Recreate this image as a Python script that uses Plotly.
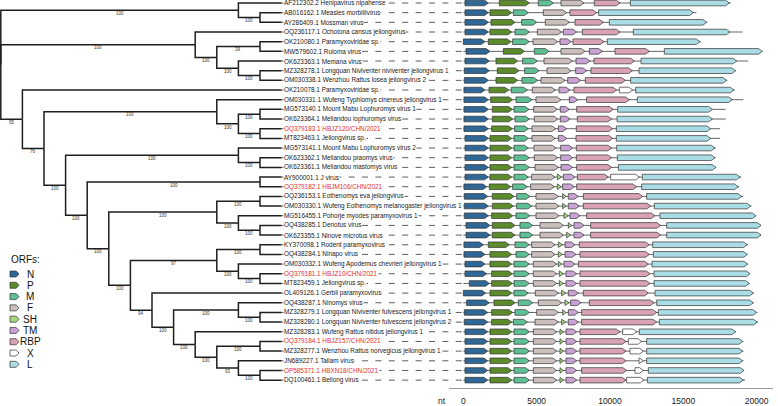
import plotly.graph_objects as go

# ---------------- data ----------------
# tree topology (Newick, support values after each clade)
V = "(JN689227.1,(OP585371.1,DQ100461.1)100)93"
U = "(MZ328283.1,((OQ379184.1,MZ328277.1)100," + V + ")100)100"
S = "((OQ438287.1,(MZ328279.1,MZ328280.1)100)100," + U + ")100"
R = "(OL409126.1," + S + ")94"
P = "((KY370098.1,OQ438284.1)100,(OM030332.1,(OQ379181.1,MT823459.1)100)100)97"
O = "(" + P + "," + R + ")100"
Mc = "((OQ236153.1,OM030330.1)100,(MG516455.1,(OQ438285.1,OK623355.1)100)100)100"
Lc = "(" + Mc + "," + O + ")100"
K = "((AY900001.1,OQ379182.1)100," + Lc + ")100"
J = "(MG573141.1,(OK623362.1,OK623361.1)100)100"
I = "(" + J + "," + K + ")100"
G = "(OM030331.1,((MG573140.1,OK623364.1)100,(OQ379183.1,MT823463.1)100)100)100"
D = "(OK210078.1,(" + G + "," + I + ")76)95"
B = "(OQ236117.1,((OK210080.1,MW579602.1)39,(OK623363.1,(MZ328278.1,OM030338.1)100)100)100)100"
A = "(AF212302.2,(AB016162.1,AY286409.1)100)100"
tree_newick = "(" + A + "," + B + "," + D + ");"

tip_names = [
    "AF212302.2 Henipavirus nipahense", "AB016162.1 Measles morbillivirus",
    "AY286409.1 Mossman virus", "OQ236117.1 Ochotona cansus jeilongvirus",
    "OK210080.1 Paramyxoviridae sp.", "MW579602.1 Ruloma virus",
    "OK623363.1 Memana virus", "MZ328278.1 Longquan Niviventer niviventer jeilongvirus 1",
    "OM030338.1 Wenzhou Rattus losea jeilongvirus 2", "OK210078.1 Paramyxoviridae sp.",
    "OM030331.1 Wufeng Typhlomys cinereus jeilongvirus 1", "MG573140.1 Mount Mabu Lophuromys virus 1",
    "OK623364.1 Meliandou lophuromys virus", "OQ379183.1 HBJZ120/CHN/2021",
    "MT823463.1 Jeilongvirus sp.", "MG573141.1 Mount Mabu Lophuromys virus 2",
    "OK623362.1 Meliandou praomys virus", "OK623361.1 Meliandou mastomys virus",
    "AY900001.1 J virus", "OQ379182.1 HBJM106/CHN/2021",
    "OQ236153.1 Eothenomys eva jeilongvirus", "OM030330.1 Wufeng Eothenomys melanogaster jeilongvirus 1",
    "MG516455.1 Pohorje myodes paramyxovirus 1", "OQ438285.1 Denotus virus",
    "OK623355.1 Ninove microtus virus", "KY370098.1 Rodent paramyxovirus",
    "OQ438284.1 Ninapo virus", "OM030332.1 Wufeng Apodemus chevrieri jeilongvirus 1",
    "OQ379181.1 HBJZ10/CHN/2021", "MT823459.1 Jeilongvirus sp.",
    "OL409126.1 Gerbil paramyxovirus", "OQ438287.1 Ninomys virus",
    "MZ328279.1 Longquan Niviventer fulvescens jeilongvirus 1",
    "MZ328280.1 Longquan Niviventer fulvescens jeilongvirus 2",
    "MZ328283.1 Wufeng Rattus nitidus jeilongvirus 1", "OQ379184.1 HBJZ157/CHN/2021",
    "MZ328277.1 Wenzhou Rattus norvegicus jeilongvirus 1", "JN689227.1 Tailam virus",
    "OP585371.1 HBXN18/CHN/2021", "DQ100461.1 Beilong virus",
]
highlight = ["OQ379183.1", "OQ379182.1", "OQ379181.1", "OQ379184.1", "OP585371.1"]

orf_names = ["N", "P", "M", "F", "SH", "TM", "RBP", "X", "L"]
orf_colors = ["#2F6896", "#5C8B2B", "#5FBF94", "#CBBFBD", "#A5D880",
              "#C9A3D3", "#D9A3B4", "#FFFFFF", "#A9DCE4"]

N = [(114,1705),(114,1705),(114,1705),(114,1705),(0,1477),(182,1818),(114,1773),(68,1773),(68,1705),(45,1477),
     (45,1705),(45,1705),(45,1705),(45,1705),(114,1705),(114,1705),(114,1705),(114,1705),(114,1705),(45,1591),
     (68,1659),(68,1705),(68,1705),(182,1818),(182,1818),(45,1364),(45,1477),(114,1477),(114,1591),(409,1773),
     (0,1523),(227,1773),(68,1659),(68,1659),(114,1659),(114,1659),(114,1659),(114,1659),(114,1659),(114,1659)]
Pp = [(2455,4500),(1818,3296),(1887,3523),(1818,3296),(1705,3250),(2728,4160),(2228,3705),(2318,3796),(2228,3705),(1750,3091),
      (1864,3364),(1978,3341),(1978,3364),(1932,3341),(1818,3296),(1818,3296),(1818,3296),(1818,3296),(1818,3296),(1773,3228),
      (1978,3455),(1978,3410),(1932,3364),(1978,3523),(1978,3523),(1705,3137),(1818,3296),(1818,3296),(1932,3341),(1932,3341),
      (1818,3296),(2091,3523),(1932,3364),(1932,3296),(1818,3296),(1818,3296),(1818,3296),(1818,3296),(1818,3296),(1818,3296)]
M = [(5114,6137),(3410,4432),(3978,5000),(3523,4500),(3364,4500),(4842,5842),(4046,5046),(4182,5160),(4000,5069),(3273,4364),
     (3591,4682),(3455,4478),(3523,4500),(3500,4432),(3455,4432),(3455,4432),(3455,4500),(3455,4500),(3455,4432),(3364,4364),
     (3637,4546),(3637,4660),(3591,4546),(3864,4728),(3864,4728),(3523,4500),(3591,4500),(3455,4500),(3455,4500),(3455,4500),
     (3455,4432),(3750,4728),(3523,4500),(3410,4364),(3455,4500),(3455,4500),(3455,4500),(3455,4500),(3455,4500),(3455,4500)]
F = [(6660,8228),(5455,7046),(5592,7228),(5046,6705),(4751,6433),(6660,8296),(5501,7433),(5705,7342),(5296,6933),(4705,6274),
     (4955,6660),(4796,6410),(4842,6433),(4682,6296),(4682,6251),(4819,6319),(4842,6433),(4887,6478),(4660,6251),(4591,6205),
     (4955,6478),(4955,6524),(4955,6524),(5228,6819),(5228,6819),(4660,6251),(4660,6251),(4773,6364),(4773,6364),(4773,6364),
     (4910,6478),(5114,6705),(5000,6478),(4887,6478),(4773,6364),(4773,6364),(4773,6364),(4773,6364),(4773,6364),(4773,6364)]
SH = [None]*18 + [(6410,6705),(6410,6683),(6773,7001),(6773,7001),(6865,7160),(7160,7388),(7046,7319),(6478,6751),
                  (6478,6751),(6478,6705),(6546,6819),(6546,6819),(6705,6978),(6933,7205),(6773,7001),(6705,6978),
                  (6592,6819),(6592,6819),(6592,6819),(6592,6819),(6592,6819),(6592,6819)]
TM = [None,None,None,(6819,7728),(6592,7342),(8592,9478),(7683,8637),(7660,8410),(7115,8001),(6523,7274),
      (7228,7796),(6614,7228),(6614,7274),(6478,7046),(6478,7046),(6637,7455),(6637,7455),(6660,7455),(6819,7615),(6773,7569),
      (7160,7842),(7160,7910),(7274,7956),(7546,8228),(7546,8228),(6933,7615),(6933,7683),(6865,7615),(7001,7728),(7001,7728),
      (7160,7842),(7319,8024),(7160,7842),(7160,7842),(7001,7728),(7001,7728),(7001,7728),(7001,7728),(7001,7728),(7001,7728)]
RBP = [(8933,10683),(7273,9092),(7615,9547),(8115,10683),(7478,9592),(10342,12683),(8910,11660),(8706,11524),(8319,11047),(7546,10456),
       (8410,11320),(7728,10229),(7774,10115),(7705,10183),(7683,10183),(7705,10115),(7705,10115),(7728,10115),(7774,9888),(7728,11820),
       (8183,12229),(8183,12774),(8410,13070),(8683,13456),(8683,13456),(7910,12683),(7956,12683),(7842,12615),(7956,12729),(7956,12729),
       (8183,12615),(8592,13002),(8069,13183),(8069,13183),(7956,10683),(7956,11092),(7956,11092),(7956,11092),(8069,11138),(7956,11092)]
X = ([None]*9 + [(10638,11547)] + [None]*8 + [(10047,12001)] + [None]*15 +
     [(10865,11820),(11251,12161),(11365,12274),(11979,12274),(11706,12274),(11138,12320)])
L = [(11388,18139),(9228,15684),(9956,16593),(11592,18184),(9820,16138),(13706,20389),(12115,18639),(11979,18570),(11411,17957),(11752,18457),
     (11865,18343),(10524,16979),(10479,16979),(10433,16866),(10433,16866),(10456,17160),(10501,17160),(10570,17229),(12206,18866),(12161,18752),
     (12502,18980),(13024,19593),(13411,19957),(13865,20298),(13865,20298),(12911,19366),(12956,19366),(12865,19389),(13002,19548),(13002,19502),
     (13070,19775),(13183,19775),(13297,20002),(13365,20048),(12001,18570),(12502,19047),(12502,19047),(12502,19047),(12615,19138),(12547,19093)]
orf_coords = [N, Pp, M, F, SH, TM, RBP, X, L]

genome_len = [18246,15894,16650,19025,16200,20400,19434,18600,18000,18500,
              19093,17889,17889,17502,17502,17200,17200,17250,18954,18800,
              19093,19650,19960,20300,20300,19400,19400,19400,19550,19500,
              19800,19800,20050,20080,18600,19100,19100,19100,19150,19212]

xtick_vals = [0, 5000, 10000, 15000, 20000]
xtick_text = ["0", "5000", "10000", "15000", "20000"]

# ---------------- style constants ----------------
W, H = 778, 406
FONT = "Liberation Sans, Arial, sans-serif"
ROW0_PX, ROW_PX = 3.0, 9.67          # pixel y of row 1, row spacing
LEVEL_PX, ROOT_PX = 21.6, 0.8        # cladogram level width
BODY = 0.29                          # half arrow height (rows)
HEAD_NT = 255                        # arrowhead length (nt)
DASH_END_PX = 461.7
G_DOMAIN = [449 / W, 773 / W]
G_RANGE = [-975, 21115]

# ---------------- tree parsing/layout ----------------
def parse_newick(s):
    s = s.strip().rstrip(";")
    pos = 0

    def node():
        nonlocal pos
        kids = []
        if s[pos] == "(":
            pos += 1
            while True:
                kids.append(node())
                if s[pos] == ",":
                    pos += 1
                    continue
                if s[pos] == ")":
                    pos += 1
                    break
        st = pos
        while pos < len(s) and s[pos] not in ",()":
            pos += 1
        return {"label": s[st:pos], "children": kids}
    return node()

root = parse_newick(tree_newick)
tips = []

def layout(nd):
    if not nd["children"]:
        tips.append(nd["label"])
        nd["y"] = len(tips)
        nd["h"] = 0
    else:
        for c in nd["children"]:
            layout(c)
        nd["h"] = 1 + max(c["h"] for c in nd["children"])
        nd["y"] = (nd["children"][0]["y"] + nd["children"][-1]["y"]) / 2
layout(root)
HT = root["h"]

def set_u(nd):
    nd["u"] = HT - nd["h"]
    for c in nd["children"]:
        set_u(c)
set_u(root)

assert [t.split(" ")[0] for t in tip_names] == tips, tips

tx, ty, boot = [], [], []
def draw(nd):
    for c in nd["children"]:
        tx.extend([nd["u"], nd["u"], c["u"], None])
        ty.extend([nd["y"], c["y"], c["y"], None])
        if c["children"] and c["label"]:
            boot.append(((nd["u"] + c["u"]) / 2, c["y"], c["label"]))
        draw(c)
draw(root)

fig = go.Figure()

# dashed connectors tip -> genome
u_end = (DASH_END_PX - ROOT_PX) / LEVEL_PX
dx, dy = [], []
for r in range(1, len(tips) + 1):
    dx += [HT, u_end, None]
    dy += [r, r, None]
fig.add_trace(go.Scatter(x=dx, y=dy, mode="lines", xaxis="x", yaxis="y",
                         line=dict(color="#333333", width=0.8, dash="6px,7.4px"),
                         hoverinfo="skip", showlegend=False))

# tree
fig.add_trace(go.Scatter(x=tx, y=ty, mode="lines", xaxis="x", yaxis="y",
                         line=dict(color="#1f1f1f", width=1.5),
                         hoverinfo="skip", showlegend=False))

# genome backbone
bx, by = [], []
for r, gl in enumerate(genome_len, start=1):
    bx += [0, gl, None]
    by += [r, r, None]
fig.add_trace(go.Scatter(x=bx, y=by, mode="lines", xaxis="x2", yaxis="y",
                         line=dict(color="#555555", width=0.9),
                         hoverinfo="skip", showlegend=False))

def arrow(s, e, yc, head, bh):
    hd = min(head, e - s)
    return ([s, e - hd, e, e - hd, s, s],
            [yc - bh, yc - bh, yc, yc + bh, yc + bh, yc - bh])

for name, col, coords in zip(orf_names, orf_colors, orf_coords):
    gx, gy = [], []
    for r, se in enumerate(coords, start=1):
        if se is None:
            continue
        ax_, ay_ = arrow(se[0], se[1], r, HEAD_NT, BODY)
        gx += ax_ + [None]
        gy += ay_ + [None]
    fig.add_trace(go.Scatter(x=gx, y=gy, mode="lines", fill="toself", fillcolor=col,
                             xaxis="x2", yaxis="y", name=name,
                             line=dict(color="#333333", width=0.7),
                             hoverinfo="skip", showlegend=False))

# manual legend (pixel-space axes)
LEG_X0, LEG_X1, LEG_Y0, LEG_DY, LEG_BH, LEG_HEAD = 10, 19, 274, 11.29, 3.0, 2.8
annotations = []
for k, (name, col) in enumerate(zip(orf_names, orf_colors)):
    yc = LEG_Y0 + k * LEG_DY
    lx, ly = arrow(LEG_X0, LEG_X1, yc, LEG_HEAD, LEG_BH)
    fig.add_trace(go.Scatter(x=lx, y=ly, mode="lines", fill="toself", fillcolor=col,
                             xaxis="x3", yaxis="y3", line=dict(color="#333333", width=0.7),
                             hoverinfo="skip", showlegend=False))
    annotations.append(dict(x=30, y=yc, xref="x3", yref="y3", text=name, showarrow=False,
                            xanchor="center", yanchor="middle",
                            font=dict(family=FONT, size=10, color="#111111")))
annotations.append(dict(x=9, y=259.5, xref="x3", yref="y3", text="ORFs:", showarrow=False,
                        xanchor="left", yanchor="middle",
                        font=dict(family=FONT, size=10, color="#111111")))

# tip labels
for r, lab in enumerate(tip_names, start=1):
    acc = lab.split(" ")[0]
    annotations.append(dict(x=HT, y=r, xref="x", yref="y", text=lab, showarrow=False,
                            xanchor="left", yanchor="middle", xshift=1.2,
                            bgcolor="white", borderpad=0,
                            font=dict(family=FONT, size=6.4,
                                      color="#E5312A" if acc in highlight else "#1a1a1a")))

# support values
for u, y, lab in boot:
    annotations.append(dict(x=u, y=y, xref="x", yref="y", text=lab, showarrow=False,
                            xanchor="center", yanchor="top", yshift=0.3, borderpad=0,
                            font=dict(family=FONT, size=4.5, color="#333333")))

# axis unit label
annotations.append(dict(x=448 / W, y=1 - 401 / H, xref="paper", yref="paper", text="nt",
                        showarrow=False, xanchor="right", yanchor="middle",
                        font=dict(family=FONT, size=8.5, color="#222222")))

y_top = 1 - ROW0_PX / ROW_PX
y_bot = 1 + (H - ROW0_PX) / ROW_PX

fig.update_layout(
    width=W, height=H, autosize=False,
    margin=dict(l=0, r=0, t=0, b=0),
    paper_bgcolor="white", plot_bgcolor="rgba(0,0,0,0)",
    showlegend=False, hovermode=False,
    xaxis=dict(domain=[0, 1], range=[-ROOT_PX / LEVEL_PX, (W - ROOT_PX) / LEVEL_PX],
               visible=False, fixedrange=True),
    yaxis=dict(domain=[0, 1], range=[y_bot, y_top], visible=False, fixedrange=True),
    xaxis2=dict(domain=G_DOMAIN, range=G_RANGE, anchor="free", position=1 - 388 / H,
                showline=True, linecolor="#9a9a9a", linewidth=1.4,
                showgrid=False, zeroline=False, fixedrange=True,
                tickvals=xtick_vals, ticktext=xtick_text,
                ticks="outside", ticklen=4, tickcolor="rgba(0,0,0,0)",
                tickfont=dict(family=FONT, size=8.5, color="#222222")),
    xaxis3=dict(domain=[0, 1], range=[0, W], visible=False, anchor="y3", fixedrange=True),
    yaxis3=dict(domain=[0, 1], range=[H, 0], visible=False, anchor="x3", fixedrange=True),
    annotations=annotations,
)

fig.write_html("out.html", config={"displayModeBar": False, "staticPlot": True},
               post_script="document.body.style.margin='0';")
